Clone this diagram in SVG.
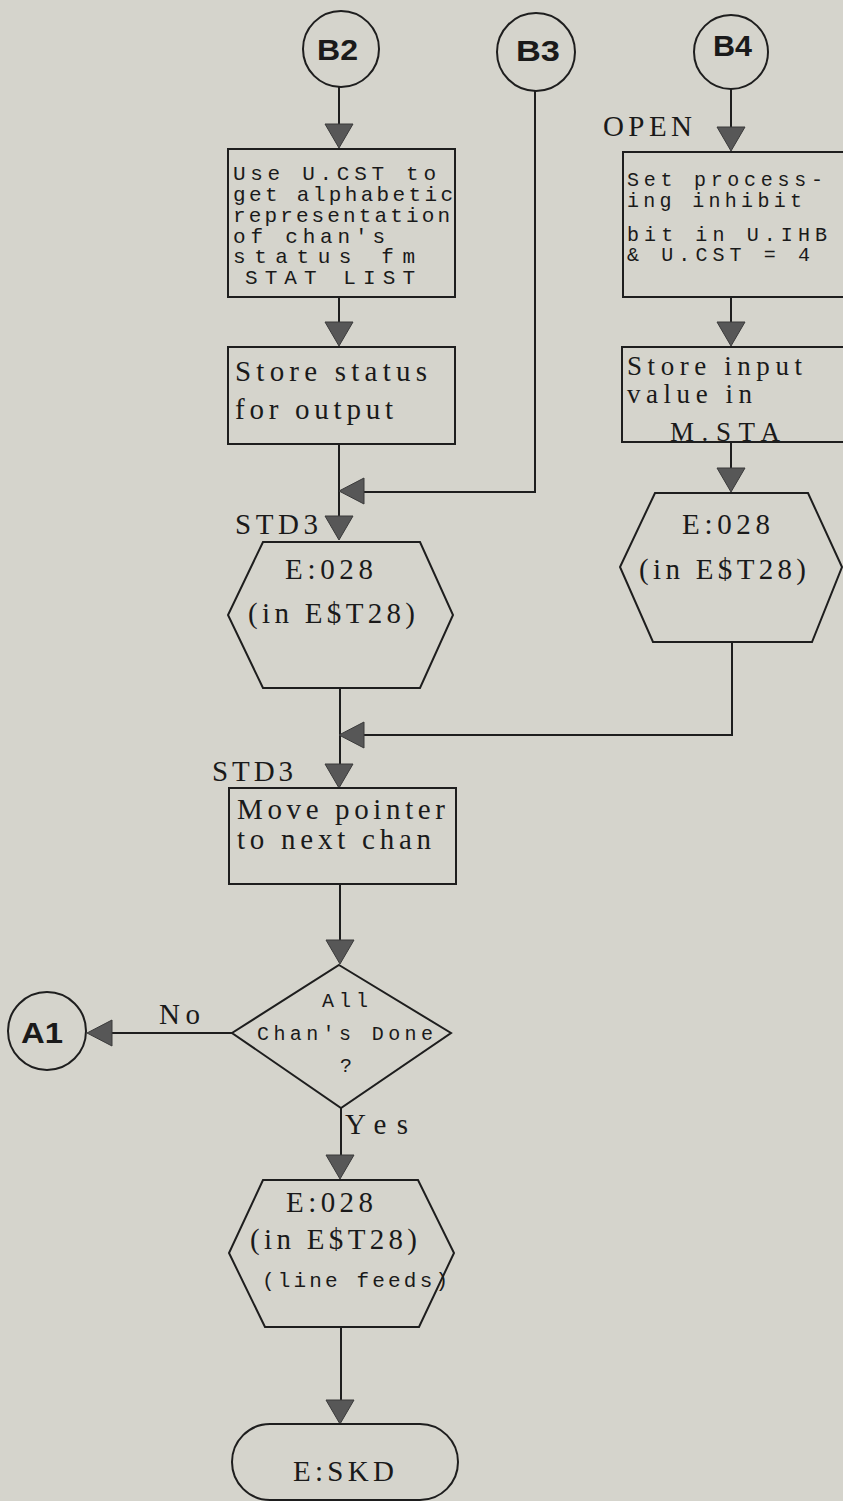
<svg xmlns="http://www.w3.org/2000/svg" xmlns:xlink="http://www.w3.org/1999/xlink" width="843" height="1501" viewBox="0 0 843 1501">
<style>
.bg{fill:#d5d4cc}
.sh{fill:none;stroke:#1e1e1e;stroke-width:2}
.ln{fill:none;stroke:#1e1e1e;stroke-width:2}
.ah{fill:#575757;stroke:#3a3a3a;stroke-width:1}
.serif{font-family:"Liberation Serif","Times New Roman",serif;font-size:29px;fill:#1a1a1a}
.serif2{font-family:"Liberation Serif","Times New Roman",serif;font-size:27px;fill:#1a1a1a}
.mono{font-family:"Liberation Mono","Courier New",monospace;font-size:21px;fill:#1a1a1a}
.mono2{font-family:"Liberation Mono","Courier New",monospace;font-size:20px;fill:#1a1a1a}
.conn{font-family:"Liberation Sans",Arial,sans-serif;font-weight:bold;font-size:29px;fill:#1a1a1a}
</style>
<defs>
<path id="ad" d="M-14,-24 L14,-24 L0,0 Z"/>
<path id="al" d="M0,0 L25,-13 L25,13 Z"/>
</defs>
<rect class="bg" x="0" y="0" width="843" height="1501"/>

<g id="connectors">
<path class="ln" d="M339,87 V126"/>
<path class="ln" d="M339,297 V324"/>
<path class="ln" d="M339,444 V518"/>
<path class="ln" d="M535,90 V492 H362"/>
<path class="ln" d="M340,688 V766"/>
<path class="ln" d="M732,642 V735 H362"/>
<path class="ln" d="M340,884 V942"/>
<path class="ln" d="M341,1108 V1157"/>
<path class="ln" d="M232,1033 H112"/>
<path class="ln" d="M341,1327 V1402"/>
<path class="ln" d="M731,89 V128"/>
<path class="ln" d="M731,297 V324"/>
<path class="ln" d="M731,442 V468"/>
<use xlink:href="#ad" class="ah" x="339" y="148"/>
<use xlink:href="#ad" class="ah" x="339" y="346"/>
<use xlink:href="#al" class="ah" x="339" y="491"/>
<use xlink:href="#ad" class="ah" x="339" y="540"/>
<use xlink:href="#al" class="ah" x="339" y="735"/>
<use xlink:href="#ad" class="ah" x="339" y="788"/>
<use xlink:href="#ad" class="ah" x="340" y="964"/>
<use xlink:href="#al" class="ah" x="87" y="1033"/>
<use xlink:href="#ad" class="ah" x="340" y="1179"/>
<use xlink:href="#ad" class="ah" x="340" y="1424"/>
<use xlink:href="#ad" class="ah" x="731" y="151"/>
<use xlink:href="#ad" class="ah" x="731" y="346"/>
<use xlink:href="#ad" class="ah" x="731" y="492"/>
<text class="serif" x="159" y="1024" textLength="41" lengthAdjust="spacing">No</text>
<text class="serif" x="345" y="1134" textLength="63" lengthAdjust="spacing">Yes</text>
<text class="serif" x="235" y="534" textLength="83" lengthAdjust="spacing">STD3</text>
<text class="serif" x="212" y="781" textLength="81" lengthAdjust="spacing">STD3</text>
<text class="serif" x="603" y="136" textLength="89" lengthAdjust="spacing">OPEN</text>
</g>

<g id="B2">
<circle class="sh" cx="341" cy="49" r="38"/>
<text class="conn" x="317" y="60" textLength="41" lengthAdjust="spacingAndGlyphs">B2</text>
</g>
<g id="B3">
<circle class="sh" cx="536" cy="52" r="39"/>
<text class="conn" x="516" y="61" textLength="44" lengthAdjust="spacingAndGlyphs">B3</text>
</g>
<g id="B4">
<circle class="sh" cx="731" cy="52" r="37"/>
<text class="conn" x="713" y="56" textLength="39" lengthAdjust="spacingAndGlyphs">B4</text>
</g>
<g id="A1">
<circle class="sh" cx="47" cy="1031" r="39"/>
<text class="conn" x="21" y="1043" textLength="42" lengthAdjust="spacingAndGlyphs">A1</text>
</g>

<g id="box-ucst">
<rect class="sh" x="228" y="149" width="227" height="148"/>
<text class="mono" x="233" y="180" textLength="203" lengthAdjust="spacing">Use U.CST to</text>
<text class="mono" x="233" y="201" textLength="220" lengthAdjust="spacing">get alphabetic</text>
<text class="mono" x="233" y="222" textLength="217" lengthAdjust="spacing">representation</text>
<text class="mono" x="233" y="243" textLength="152" lengthAdjust="spacing">of chan's</text>
<text class="mono" x="233" y="263" textLength="182" lengthAdjust="spacing">status fm</text>
<text class="mono" x="245" y="284" textLength="170" lengthAdjust="spacing">STAT LIST</text>
</g>

<g id="box-store-status">
<rect class="sh" x="228" y="347" width="227" height="97"/>
<text class="serif" x="235" y="381" textLength="192" lengthAdjust="spacing">Store status</text>
<text class="serif" x="235" y="419" textLength="158" lengthAdjust="spacing">for output</text>
</g>

<g id="hex-e028-1">
<polygon class="sh" points="263,542 420,542 453,615 420,688 263,688 228,615"/>
<text class="serif" x="285" y="579" textLength="88" lengthAdjust="spacing">E:028</text>
<text class="serif" x="248" y="623" textLength="167" lengthAdjust="spacing">(in E$T28)</text>
</g>

<g id="box-open">
<rect class="sh" x="623" y="152" width="240" height="145"/>
<text class="mono2" x="627" y="186" textLength="196" lengthAdjust="spacing">Set process-</text>
<text class="mono2" x="627" y="207" textLength="175" lengthAdjust="spacing">ing inhibit</text>
<text class="mono2" x="627" y="241" textLength="200" lengthAdjust="spacing">bit in U.IHB</text>
<text class="mono2" x="627" y="261" textLength="183" lengthAdjust="spacing">&amp; U.CST = 4</text>
</g>

<g id="box-store-input">
<rect class="sh" x="622" y="347" width="240" height="95"/>
<text class="serif2" x="627" y="375" textLength="175" lengthAdjust="spacing">Store input</text>
<text class="serif2" x="627" y="403" textLength="125" lengthAdjust="spacing">value in</text>
<text class="serif2" x="670" y="441" textLength="110" lengthAdjust="spacing">M.STA</text>
</g>

<g id="hex-e028-2">
<polygon class="sh" points="655,493 808,493 842,567 812,642 653,642 620,567"/>
<text class="serif" x="682" y="534" textLength="88" lengthAdjust="spacing">E:028</text>
<text class="serif" x="639" y="579" textLength="167" lengthAdjust="spacing">(in E$T28)</text>
</g>

<g id="box-move-pointer">
<rect class="sh" x="229" y="788" width="227" height="96"/>
<text class="serif" x="237" y="819" textLength="208" lengthAdjust="spacing">Move pointer</text>
<text class="serif" x="237" y="849" textLength="194" lengthAdjust="spacing">to next chan</text>
</g>

<g id="decision-all-done">
<polygon class="sh" points="339,965 451,1033 341,1108 232,1033"/>
<text class="mono2" x="322" y="1007" textLength="46" lengthAdjust="spacing">All</text>
<text class="mono2" x="257" y="1040" textLength="176" lengthAdjust="spacing">Chan's Done</text>
<text class="mono2" x="340" y="1072">?</text>
</g>

<g id="hex-e028-3">
<polygon class="sh" points="263,1180 418,1180 454,1253 419,1327 265,1327 229,1253"/>
<text class="serif" x="286" y="1212" textLength="87" lengthAdjust="spacing">E:028</text>
<text class="serif" x="250" y="1249" textLength="167" lengthAdjust="spacing">(in E$T28)</text>
<text class="mono" x="262" y="1287" textLength="186" lengthAdjust="spacing">(line feeds)</text>
</g>

<g id="terminal-eskd">
<rect class="sh" x="232" y="1424" width="226" height="76" rx="38" ry="38"/>
<text class="serif" x="293" y="1481" textLength="101" lengthAdjust="spacing">E:SKD</text>
</g>
</svg>
